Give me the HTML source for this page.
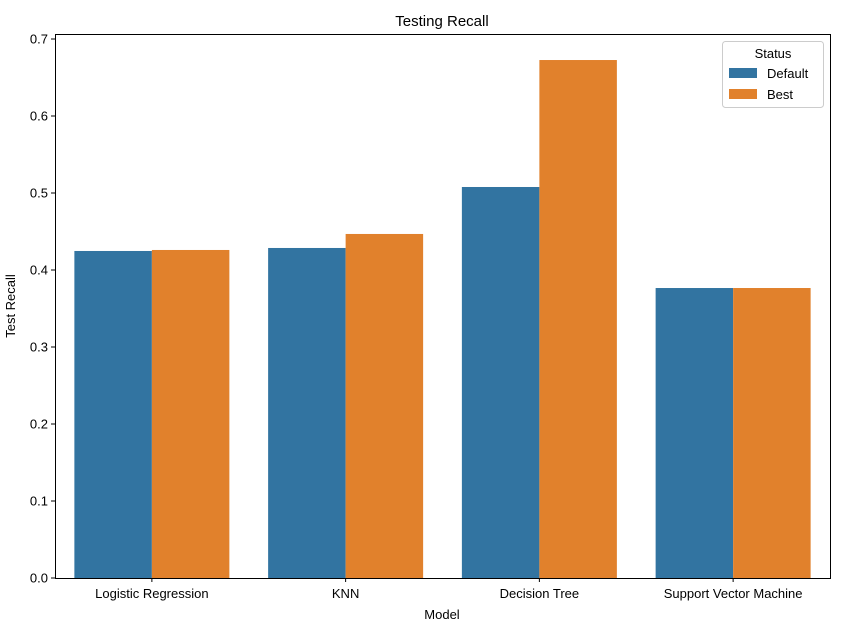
<!DOCTYPE html>
<html><head><meta charset="utf-8"><style>
html,body{margin:0;padding:0;background:#fff;}
svg{display:block;font-family:"Liberation Sans","DejaVu Sans",sans-serif;}
</style></head><body>
<svg id="chart" width="843" height="637">
<text x="442" y="26" font-size="15" text-anchor="middle">Testing Recall</text>
<text x="442" y="619" font-size="13" text-anchor="middle">Model</text>
<text x="15" y="306" font-size="13" text-anchor="middle" transform="rotate(-90 15 306)">Test Recall</text>
<g id="bars"></g><g id="axes"></g>
<g>
<rect x="722.5" y="41.5" width="101" height="66" rx="3" fill="#fff" stroke="#ccc"/>
<text x="773" y="58" font-size="13" text-anchor="middle">Status</text>
<rect x="729" y="68" width="28" height="10" fill="#3274a1"/>
<text x="767" y="78" font-size="13">Default</text>
<rect x="729" y="89" width="28" height="10" fill="#e1812c"/>
<text x="767" y="99" font-size="13">Best</text>
</g>
</svg>
<script>
const categories=["Logistic Regression","KNN","Decision Tree","Support Vector Machine"];
const defaultVals=[0.4247,0.4286,0.5078,0.3766];
const bestVals=[0.426,0.4468,0.6727,0.3766];
const yTicks=[0,0.1,0.2,0.3,0.4,0.5,0.6,0.7];
const L=55,R=830,T=34,B=578;
const NS="http://www.w3.org/2000/svg";
function y(v){return B-v*770;}
const gw=(R-L)/categories.length;
function mk(t,a,p){const e=document.createElementNS(NS,t);for(const k in a)e.setAttribute(k,a[k]);p.appendChild(e);return e;}
const bars=document.getElementById('bars'),axes=document.getElementById('axes');
categories.forEach((c,i)=>{
 const cx=L+gw*(i+0.5),bw=gw*0.4;
 let r=mk('rect',{x:cx-bw,y:y(defaultVals[i]),width:bw,height:B-y(defaultVals[i]),fill:'#3274a1'},bars);
 
 
 r=mk('rect',{x:cx,y:y(bestVals[i]),width:bw,height:B-y(bestVals[i]),fill:'#e1812c'},bars);
 
 
 mk('line',{x1:cx,x2:cx,y1:B,y2:B+4,stroke:'#000'},axes);
 const t=mk('text',{x:cx,y:B+20,'font-size':13,'text-anchor':'middle'},axes);t.textContent=c;
 
 
});
yTicks.forEach(v=>{
 mk('line',{x1:L-4,x2:L,y1:y(v),y2:y(v),stroke:'#000'},axes);
 const t=mk('text',{x:L-7,y:y(v)+4.5,'font-size':13,'text-anchor':'end'},axes);t.textContent=v.toFixed(1);
 
 
});
const f=mk('rect',{x:L+0.5,y:T+0.5,width:R-L,height:B-T,fill:'none',stroke:'#000','stroke-width':1},axes);


</script>
</body></html>
